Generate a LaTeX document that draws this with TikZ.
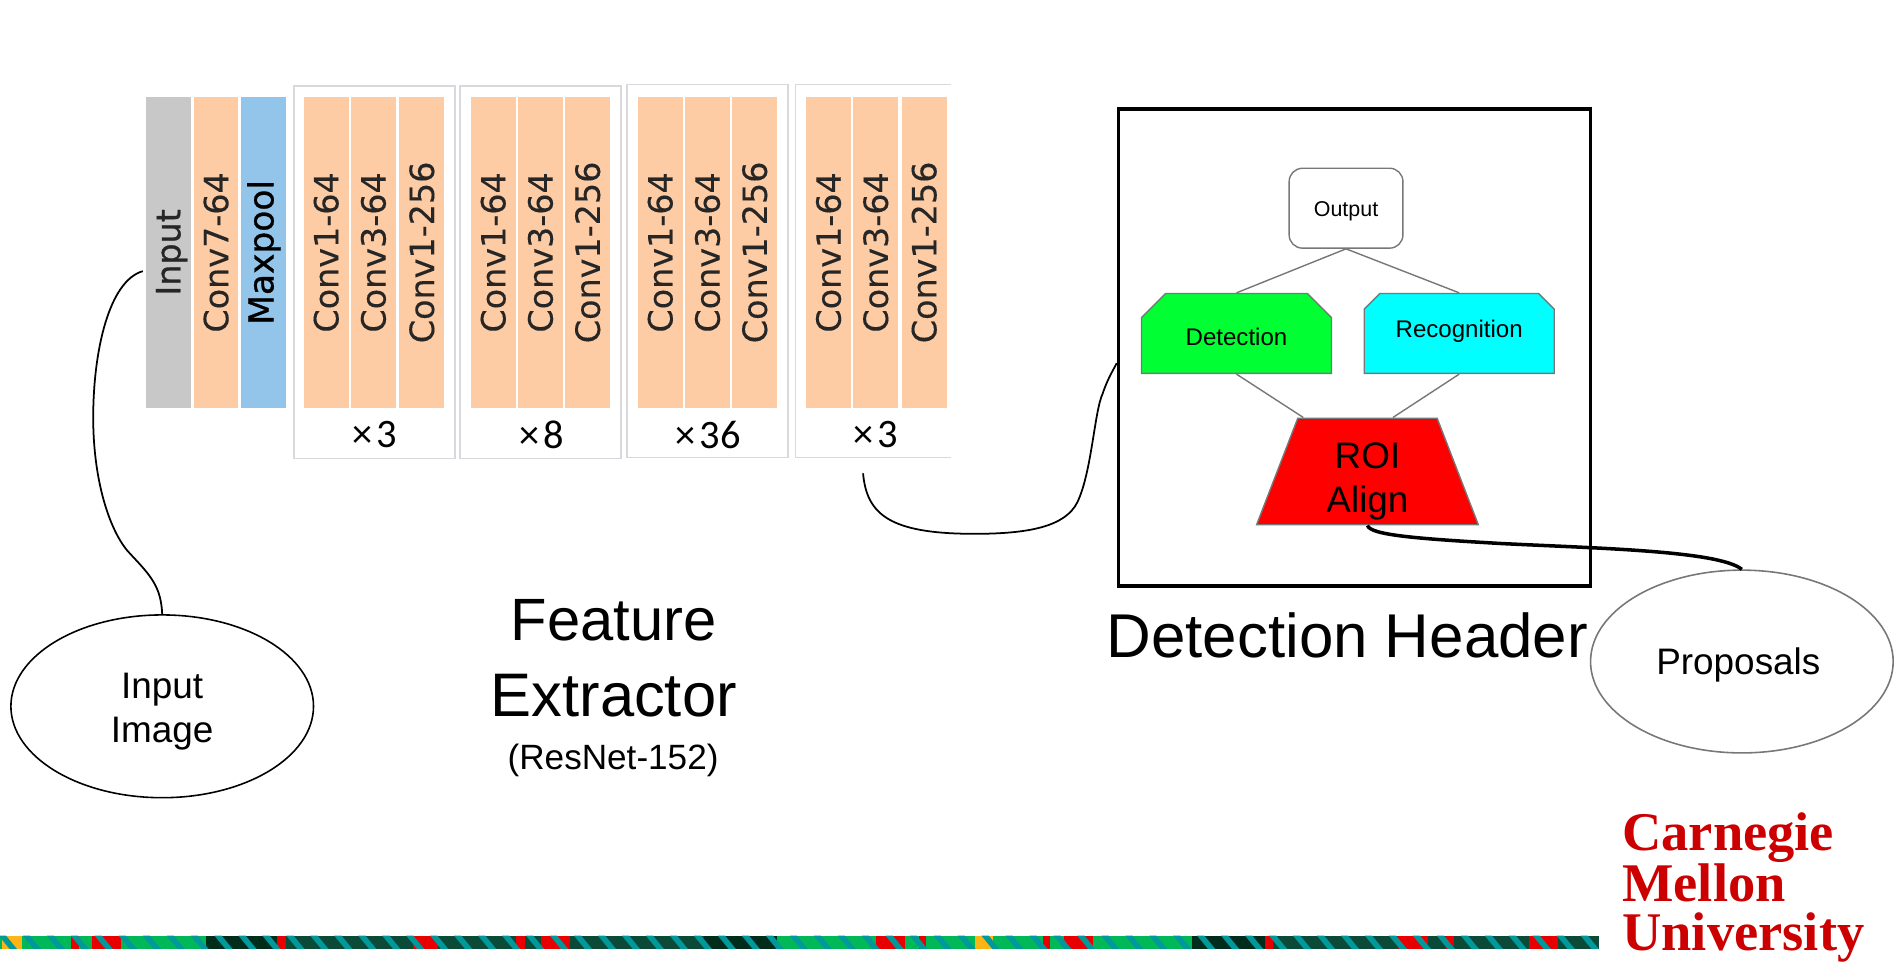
\documentclass[tikz,border=0pt]{standalone}
\usepackage{fontspec}
\setmainfont{Liberation Sans}
\newfontfamily\barfont[FakeBold=0.25]{DejaVu Sans}
\newfontfamily\barheavy[FakeBold=0.9]{DejaVu Sans}
\newfontfamily\timesfont{Carlito}
\newfontfamily\logofont{Liberation Serif}
\usetikzlibrary{calc, shapes.geometric, shapes.misc}

\def\ux{0.02421cm}
\newcommand{\fs}[1]{\fontsize{#1}{#1}\selectfont}
\definecolor{peach}{HTML}{FDCBA4}
\definecolor{barblue}{HTML}{93C5EA}
\definecolor{bargray}{HTML}{C8C8C8}
\definecolor{boxgray}{HTML}{D9D9DD}
\definecolor{edgegray}{HTML}{777777}
\definecolor{cmured}{HTML}{CC0000}
\definecolor{blockgreen}{HTML}{00FF33}
\definecolor{blockcyan}{HTML}{00FFFF}
\definecolor{blockred}{HTML}{FF0000}
\definecolor{stripeteal}{HTML}{00989A}
\definecolor{stripegreen}{HTML}{00B858}
\definecolor{stripedark}{HTML}{002C1C}
\definecolor{stripemed}{HTML}{0B4A36}
\definecolor{stripered}{HTML}{E80000}
\definecolor{stripeyellow}{HTML}{FDB515}

\tikzset{
	bar/.style = {rotate = 90, minimum width = 257*\ux, minimum height = 37*\ux, inner sep = 0, fill = peach, text = black!85, font = \barfont\fs{19}},
	group box/.style = {draw = boxgray, line width = 0.8pt, fill = white, minimum width = 133*\ux, minimum height = 308*\ux, inner sep = 0},
	times/.style = {font = \timesfont\fs{23}, inner sep = 0},
	flow/.style = {draw = edgegray, line width = 0.8pt},
	block/.style = {flow, inner sep = 0, minimum width = 157*\ux, minimum height = 66*\ux, chamfered rectangle, chamfered rectangle corners = {north west, north east}, chamfered rectangle xsep = 10*\ux, chamfered rectangle ysep = 10*\ux, font = \fs{13.7}},
	bubble/.style = {ellipse, inner sep = 0, minimum width = 250*\ux, minimum height = 151*\ux, align = center, font = \fs{21}},
	title/.style = {align = center, inner sep = 0, font = \fs{34}},
	link/.style = {draw = black, line width = 1pt}
}

\begin{document}
\begin{tikzpicture}[x = \ux, y = -\ux]
	\useasboundingbox (0,0) rectangle (1568,808);
	
	% feature extractor
	\node [bar, fill = bargray, font = \barheavy\fs{19}] (input) at (139.5,208.5) {\rule{0pt}{17pt}Input};
	\node [bar] (conv seven) at (178.5,208.5) {Conv7-64};
	\node [bar, fill = barblue, text = black, font = \barheavy\fs{19.6}] (maxpool) at (218,208.5) {Maxpool};
	
	\node [group box] (group a) at (309.5,225) {};
	\node [group box] (group b) at (446.5,225) {};
	\node [group box] (group c) at (584.5,224) {};
	\draw [draw = boxgray, line width = 0.8pt] (786,70) -- (657,70) -- (657,378) -- (786,378);
	
	\node [bar] (a one) at (269.5,208.5) {Conv1-64};
	\node [bar] (a two) at (308.5,208.5) {Conv3-64};
	\node [bar] (a three) at (348.5,208.5) {Conv1-256};
	\node [times] (a times) at (309.5,359) {×\hspace{2.5pt}3};
	
	\node [bar] (b one) at (407.5,208.5) {Conv1-64};
	\node [bar] (b two) at (446.5,208.5) {Conv3-64};
	\node [bar] (b three) at (485.5,208.5) {Conv1-256};
	\node [times] (b times) at (447.5,359) {×\hspace{2.5pt}8};
	
	\node [bar] (c one) at (545.5,208.5) {Conv1-64};
	\node [bar] (c two) at (584.5,208.5) {Conv3-64};
	\node [bar] (c three) at (623.5,208.5) {Conv1-256};
	\node [times] (c times) at (585,359) {×\hspace{2.5pt}36};
	
	\node [bar] (d one) at (684.5,208.5) {Conv1-64};
	\node [bar] (d two) at (723.5,208.5) {Conv3-64};
	\node [bar] (d three) at (763.5,208.5) {Conv1-256};
	\node [times] (d times) at (723.5,359) {×\hspace{2.5pt}3};
	
	\node [title] (extractor) at (507,544) {Feature\\[9pt]\fs{35}Extractor};
	\node [font = \fs{20}, inner sep = 0] (backbone) at (506.5,628) {(ResNet-152)};
	
	% detection header
	\node [draw = black, line width = 2pt, minimum width = 390*\ux, minimum height = 394*\ux, inner sep = 0] (header) at (1119,287) {};
	\node [flow, rounded corners = 11*\ux, minimum width = 94*\ux, minimum height = 66*\ux, inner sep = 0, font = \fs{12.2}] (output) at (1112,172) {\rule{0pt}{11.5pt}Output};
	\node [block, fill = blockgreen, text height = 13.8pt, text depth = 0pt] (detection) at (1021.5,275.5) {Detection};
	\node [block, fill = blockcyan, text height = 4pt, text depth = 0pt] (recognition) at (1205.5,275.5) {Recognition};
	\node [flow, fill = blockred, trapezium, trapezium left angle = 76, trapezium right angle = 76, trapezium stretches = true, minimum width = 184*\ux, minimum height = 88*\ux, inner sep = 0, align = center, font = \fs{21}] (roi) at (1129.7,389.5) {\rule{0pt}{26pt}ROI\\[4pt]Align};
	
	\draw [flow] (output.south) -- (detection.north);
	\draw [flow] (output.south) -- (recognition.north);
	\draw [flow] (detection.south) -- ($ (roi.north) + (-53,0) $);
	\draw [flow] (recognition.south) -- ($ (roi.north) + (21,0) $);
	
	\node [title, font = \fs{35.2}] (header title) at (1113,525) {Detection Header};
	
	% inputs
	\node [bubble, draw = black, line width = 0.9pt] (image) at (134,583.5) {\rule{0pt}{20pt}Input\\[4pt]Image};
	\node [bubble, draw = edgegray, line width = 0.9pt] (proposals) at (1439,546.5) {\rule{0pt}{19pt}Proposals\hspace{4pt}};
	
	\coordinate (input end) at (118,224);
	\coordinate (block end) at (713,391);
	
	\draw [link] (input end) .. controls (90,232) and (77,290) .. (77,345) .. controls (77,400) and (92,442) .. (108,458) .. controls (125,476) and (133,485) .. (image.north);
	\draw [link] (block end) .. controls (716,425) and (735,441) .. (805,441) .. controls (850,441) and (880,435) .. (890,415) .. controls (902,390) and (904,340) .. (911,325) .. controls (915,313) and (919,307) .. ($ (header.west) + (0,13) $);
	\draw [link, line width = 2pt] (roi.south) .. controls (1132,442) and (1170,445) .. (1240,449) .. controls (1320,453) and (1420,455) .. (proposals.north);
	
	% logo
	\node [anchor = north west, align = left, inner sep = 0, text = cmured, font = \logofont\bfseries\fontsize{31}{27.7}\selectfont] (logo) at (1340,671) {Carnegie\\Mellon\\University};
	
	% bottom stripe
	\begin{scope}
		\clip (0,773) rectangle (1321,784);
		\foreach \a/\b/\c in {0/2/stripegreen, 2/18/stripeyellow, 18/59/stripegreen, 59/65.5/stripered, 65.5/76/stripegreen, 76/100/stripered, 100/170/stripegreen, 170/229/stripedark, 229/236/stripered, 236/341/stripemed, 341/362/stripered, 362/426/stripemed, 426/434/stripered, 434/447/stripemed, 447/471/stripered, 471/582/stripemed, 582/642/stripedark, 642/723.5/stripegreen, 723.5/747.3/stripered, 747.3/759.4/stripegreen, 759.4/764.6/stripered, 764.6/805.6/stripegreen, 805.6/820.7/stripeyellow, 820.7/861.8/stripegreen, 861.8/867.4/stripered, 867.4/879/stripegreen, 879/902.8/stripered, 902.8/985/stripegreen, 985/1045.4/stripedark, 1045.4/1052/stripered, 1052/1154.7/stripemed, 1154.7/1179.3/stripered, 1179.3/1194.4/stripemed, 1194.4/1201/stripered, 1201/1263.5/stripemed, 1263.5/1287.3/stripered, 1287.3/1321/stripemed}
			\fill [\c] (\a,773) rectangle (\b,784);
		\foreach \n in {0,...,67}
			\fill [stripeteal] (-1+19.8*\n,773) -- ++(6,0) -- ++(9,11) -- ++(-6,0) -- cycle;
	\end{scope}
\end{tikzpicture}
\end{document}
